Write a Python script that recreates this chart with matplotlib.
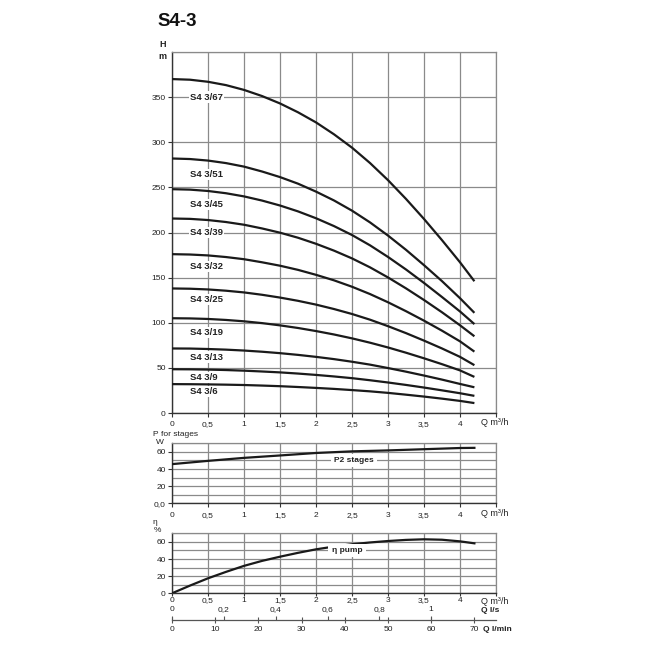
import matplotlib
matplotlib.use("Agg")
import matplotlib.pyplot as plt
import numpy as np

plt.rcParams['font.family'] = ['Liberation Sans', 'DejaVu Sans']

# ---------------- data ----------------
q = [0, 0.25, 0.5, 0.75, 1, 1.25, 1.5, 1.75, 2, 2.25, 2.5, 2.75, 3, 3.25,
     3.5, 3.75, 4, 4.2]
h_67 = [370, 369.3, 367, 363.3, 358, 351.2, 343, 333.2, 322, 308.8, 294,
        277, 258, 237.2, 215, 191.5, 167, 146]
h_51 = [282, 281.4, 279.7, 276.9, 273, 267.6, 261.4, 254.1, 245.3, 235.5,
        224.2, 211.2, 196.6, 180.8, 163.8, 146.1, 127.2, 111]
h_45 = [248, 247.5, 246, 243.5, 240, 235.4, 229.9, 223.4, 215.8, 207.1,
        197.2, 185.8, 172.9, 159, 144.1, 128.5, 112.5, 98.5]
h_39 = [215.5, 215.1, 213.8, 211.6, 208.6, 204.5, 199.8, 194.2, 187.5,
        179.9, 171.3, 161.4, 150.2, 138.1, 125.2, 111.6, 97.2, 85]
h_32 = [176, 175.6, 174.6, 172.8, 170.4, 167, 163.2, 158.6, 153.1, 147,
        139.9, 131.8, 122.7, 112.8, 102.3, 91.2, 79.4, 68]
h_25 = [138, 137.7, 136.9, 135.5, 133.6, 131, 127.9, 124.3, 120.1, 115.2,
        109.7, 103.4, 96.2, 88.5, 80.2, 71.5, 62.2, 53]
h_19 = [105, 104.8, 104.2, 103.1, 101.6, 99.6, 97.1, 94.2, 90.8, 87,
        82.7, 77.9, 72.6, 66.8, 60.6, 54.1, 47.2, 40]
h_13 = [71.5, 71.4, 70.9, 70.2, 69.2, 67.9, 66.3, 64.4, 62.2, 59.7, 56.8,
        53.6, 49.8, 45.8, 41.5, 37, 32.2, 28.5]
h_9 = [48.5, 48.4, 48.1, 47.6, 46.9, 46, 45, 43.7, 42.2, 40.5, 38.6, 36.3,
       33.8, 31.1, 28.2, 25.1, 21.9, 19]
h_6 = [32, 31.9, 31.7, 31.4, 31, 30.4, 29.7, 28.8, 27.8, 26.7, 25.4, 24,
       22.3, 20.3, 18.2, 15.9, 13.4, 11]
models = ["S4 3/67", "S4 3/51", "S4 3/45", "S4 3/39", "S4 3/32",
          "S4 3/25", "S4 3/19", "S4 3/13", "S4 3/9", "S4 3/6"]
heads = [h_67, h_51, h_45, h_39, h_32, h_25, h_19, h_13, h_9, h_6]

q_p2 = [0, 0.5, 1, 1.5, 2, 2.5, 3, 3.5, 4, 4.2]
p2 = [45.7, 49.5, 53, 55.8, 58.7, 60.6, 61.7, 63.1, 64.5, 64.7]

q_eta = [0, 0.25, 0.5, 0.75, 1, 1.25, 1.5, 1.75, 2, 2.25, 2.5, 2.75, 3,
         3.25, 3.5, 3.75, 4, 4.2]
eta = [0, 9, 17.5, 25, 32, 37.8, 42.7, 47.2, 51.3, 54.5, 57.2, 59.3, 61,
       62.3, 63, 62.5, 60.6, 58.3]

q_ticks = [0, 0.5, 1, 1.5, 2, 2.5, 3, 3.5, 4, 4.5]
q_ticklabels = ["0", "0,5", "1", "1,5", "2", "2,5", "3", "3,5", "4", ""]
ls_ticks = [0, 0.2, 0.4, 0.6, 0.8, 1.0]
ls_ticklabels = ["0", "0,2", "0,4", "0,6", "0,8", "1"]
lmin_ticks = [0, 10, 20, 30, 40, 50, 60, 70]

# label positions (H values of the curve labels)
label_h = [350, 264, 231, 200, 162, 126, 89, 62, 39, 23.7]

# ---------------- style ----------------
GRID = "#8a8a8a"
AX = "#333333"
TXT = "#222222"
W, H = 650, 650

def fig_rect(l, t, r, b):
    return [l / W, 1 - b / H, (r - l) / W, (b - t) / H]

fig = plt.figure(figsize=(6.5, 6.5), dpi=100)

def style_axes(ax, ymax, ystep, yticks, yticklabels, xpad):
    ax.set_xlim(0, 4.5)
    ax.set_ylim(0, ymax)
    for x in q_ticks:
        ax.axvline(x, color=GRID, lw=0.9, zorder=1)
    for y in np.arange(0, ymax + 0.001, ystep):
        ax.axhline(y, color=GRID, lw=0.9, zorder=1)
    ax.set_xticks(q_ticks)
    ax.set_xticklabels(q_ticklabels)
    ax.set_yticks(yticks)
    ax.set_yticklabels(yticklabels)
    ax.tick_params(axis='both', labelsize=6, colors=AX, labelcolor=TXT,
                   length=3, width=0.8)
    ax.tick_params(axis='x', pad=xpad)
    ax.tick_params(axis='y', pad=1.5)
    for s in ['left', 'bottom']:
        ax.spines[s].set_color(AX)
        ax.spines[s].set_linewidth(1.0)
    for s in ['top', 'right']:
        ax.spines[s].set_color(GRID)
        ax.spines[s].set_linewidth(0.9)

# ---- title
fig.text(157 / W, 1 - 21 / H, "S4-3", fontsize=13.5, fontweight='bold',
         ha='left', va='center', color='#111111')

# ---- head chart
ax1 = fig.add_axes(fig_rect(172, 52, 496, 413))
style_axes(ax1, 400, 50, [0, 50, 100, 150, 200, 250, 300, 350],
           ["0", "50", "100", "150", "200", "250", "300", "350"], 2.5)
for hv in heads:
    ax1.plot(q, hv, color='#1a1a1a', lw=1.6, zorder=3, solid_capstyle='butt',
             solid_joinstyle='round')
for name, ly in zip(models, label_h):
    ax1.text(0.25, ly, name, fontsize=6.8, fontweight='bold', color='#222222',
             ha='left', va='center', zorder=4,
             bbox=dict(boxstyle='square,pad=0.12', fc='white', ec='none'))
fig.text(162.5 / W, 1 - 44.5 / H, "H", fontsize=6.5, fontweight='bold',
         ha='center', va='center', color=TXT)
fig.text(162.5 / W, 1 - 56.5 / H, "m", fontsize=6.5, fontweight='bold',
         ha='center', va='center', color=TXT)
fig.text(481 / W, 1 - 422.5 / H, "Q m³/h", fontsize=6.5, ha='left',
         va='center', color=TXT)

# ---- power chart
ax2 = fig.add_axes(fig_rect(172, 443.3, 496, 503.3))
style_axes(ax2, 70, 10, [0, 20, 40, 60], ["0,0", "20", "40", "60"], 3.5)
ax2.plot(q_p2, p2, color='#1a1a1a', lw=1.6, zorder=3)
ax2.text(2.53, 50, "P2 stages", fontsize=6, fontweight='bold', color=TXT,
         ha='center', va='center', zorder=4,
         bbox=dict(boxstyle='square,pad=0.4', fc='white', ec='none'))
fig.text(155 / W, 1 - 434.5 / H, "P", fontsize=6, ha='center',
         va='center', color=TXT)
fig.text(161 / W, 1 - 435 / H, "for stages", fontsize=6, ha='left',
         va='center', color=TXT)
fig.text(160 / W, 1 - 442 / H, "W", fontsize=6, ha='center',
         va='center', color=TXT)
fig.text(481 / W, 1 - 514 / H, "Q m³/h", fontsize=6.5, ha='left',
         va='center', color=TXT)

# ---- efficiency chart
ax3 = fig.add_axes(fig_rect(172, 533.3, 496, 593.3))
style_axes(ax3, 70, 10, [0, 20, 40, 60], ["0", "20", "40", "60"], 1)
ax3.tick_params(axis='x', length=2)
ax3.plot(q_eta, eta, color='#1a1a1a', lw=1.6, zorder=3)
ax3.text(2.43, 50, "η pump", fontsize=6, fontweight='bold', color=TXT,
         ha='center', va='center', zorder=4,
         bbox=dict(boxstyle='square,pad=0.4', fc='white', ec='none'))
fig.text(155 / W, 1 - 522.5 / H, "η", fontsize=6, ha='center',
         va='center', color=TXT)
fig.text(157 / W, 1 - 531 / H, "%", fontsize=6, ha='center',
         va='center', color=TXT)
fig.text(481 / W, 1 - 601 / H, "Q m³/h", fontsize=6.5, ha='left',
         va='center', color=TXT)

# ---- secondary flow scales (l/min line with l/s above)
ax4 = fig.add_axes(fig_rect(172, 619.5, 496, 619.5))
ax4.set_xlim(0, 75)
ax4.set_ylim(0, 1)
ax4.patch.set_visible(False)
for s in ['top', 'left', 'right']:
    ax4.spines[s].set_visible(False)
ax4.spines['bottom'].set_color('#555555')
ax4.spines['bottom'].set_linewidth(0.9)
ax4.set_yticks([])
ax4.set_xticks(lmin_ticks)
ax4.set_xticklabels([str(v) for v in lmin_ticks])
ax4.tick_params(axis='x', direction='inout', length=5, width=0.8,
                colors='#555555', labelcolor=TXT, labelsize=6, pad=2.5)
sec = ax4.secondary_xaxis('top', functions=(lambda v: v / 60.0,
                                            lambda v: v * 60.0))
sec.spines['top'].set_visible(False)
sec.set_xticks(ls_ticks)
sec.set_xticklabels(ls_ticklabels)
sec.tick_params(axis='x', direction='out', length=3, width=0.8,
                colors='#555555', labelcolor=TXT, labelsize=6, pad=1.5)
fig.text(481 / W, 1 - 611 / H, "Q l/s", fontsize=6, fontweight='bold',
         ha='left', va='center', color=TXT)
fig.text(483 / W, 1 - 629.5 / H, "Q l/min", fontsize=6, fontweight='bold',
         ha='left', va='center', color=TXT)

fig.savefig("out.png", dpi=100, facecolor='white')
